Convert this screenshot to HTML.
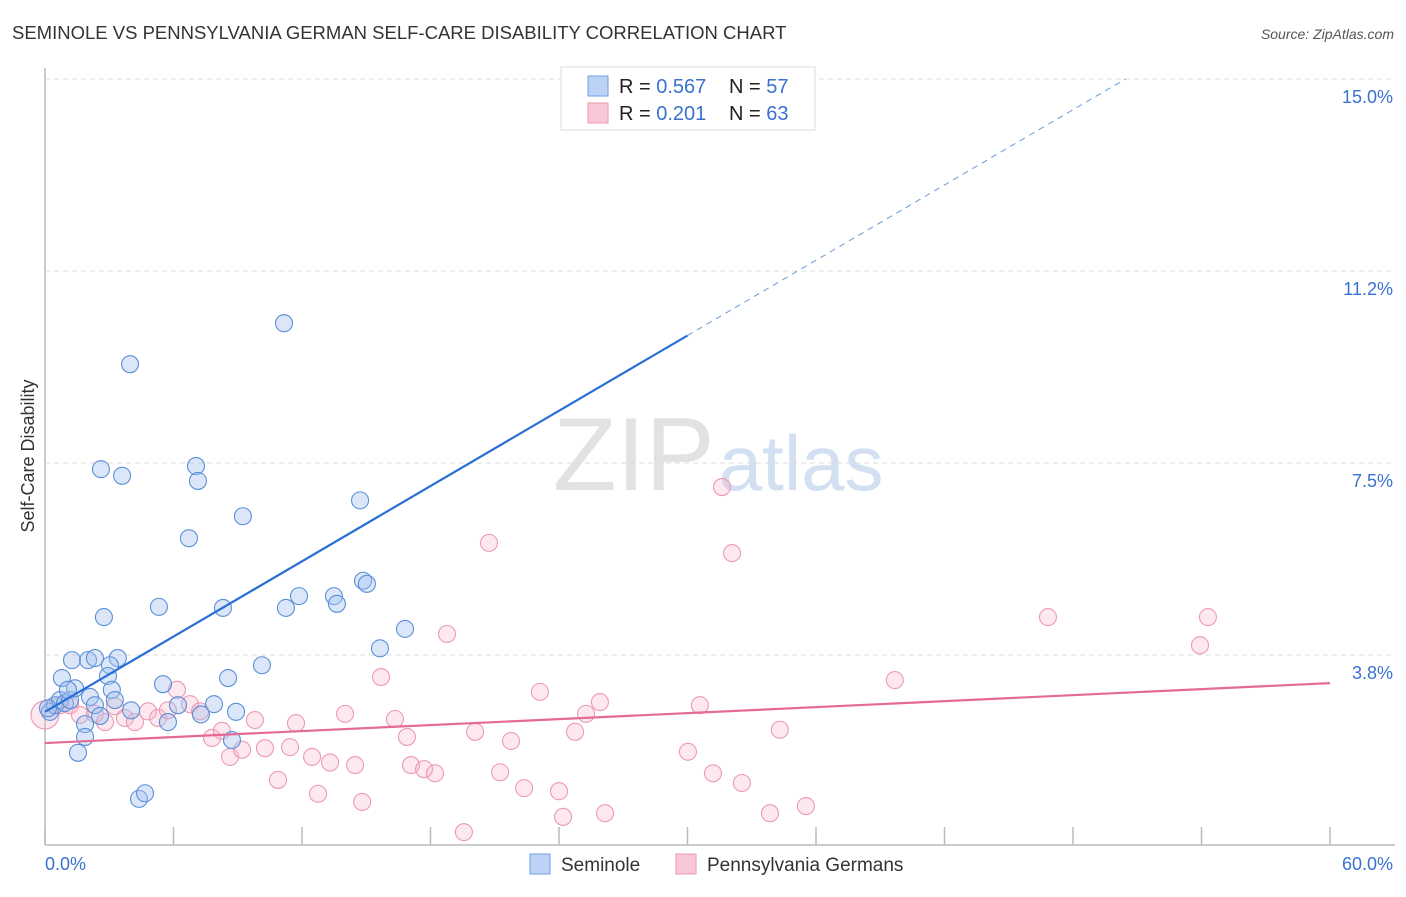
<!DOCTYPE html>
<html><head><meta charset="utf-8"><style>
body{margin:0;background:#fff;font-family:"Liberation Sans",sans-serif;}
svg text{font-family:"Liberation Sans",sans-serif;}
</style></head><body>
<svg id="c" width="1406" height="892">
<text x="12" y="39" font-size="18.5" fill="#333">SEMINOLE VS PENNSYLVANIA GERMAN SELF-CARE DISABILITY CORRELATION CHART</text>
<text x="1394" y="39" font-size="14" fill="#555" font-style="italic" text-anchor="end">Source: ZipAtlas.com</text>
<text x="34" y="456" font-size="18" fill="#333" text-anchor="middle" transform="rotate(-90 34 456)">Self-Care Disability</text>
<text x="553" y="490" font-size="104" fill="#e2e2e2" font-family="Liberation Serif">ZIP<tspan fill="#d3e0f2" font-family="Liberation Sans" font-size="78" dx="4">atlas</tspan></text>
<g id="grid"></g><g id="pts"></g><g id="lines"></g>
<g>
<rect x="561" y="67" width="254" height="63" fill="#fff" stroke="#ddd"/>
<rect x="588" y="76" width="20" height="20" fill="#bcd3f5" stroke="#6f9ee0"/>
<rect x="588" y="103" width="20" height="20" fill="#f9c8d6" stroke="#ec9ab2"/>
<text x="619" y="93" font-size="20" fill="#222">R = <tspan fill="#3a72d0">0.567</tspan><tspan x="729">N = </tspan><tspan fill="#3a72d0">57</tspan></text>
<text x="619" y="120" font-size="20" fill="#222">R = <tspan fill="#3a72d0"> 0.201</tspan><tspan x="729">N = </tspan><tspan fill="#3a72d0">63</tspan></text>
</g>
<g>
<rect x="530" y="854" width="20" height="20" fill="#bcd3f5" stroke="#6f9ee0"/>
<text x="561" y="871" font-size="19" fill="#333">Seminole</text>
<rect x="676" y="854" width="20" height="20" fill="#f9c8d6" stroke="#ec9ab2"/>
<text x="707" y="871" font-size="19" fill="#333">Pennsylvania Germans</text>
</g>
</svg>
<script>
const xTicks=[0,6,12,18,24,30,36,42,48,54,60];
const yTicks=[3.75,7.5,11.25,15];
const yTickLabels=["3.8%","7.5%","11.2%","15.0%"];
const xLabels=["0.0%","60.0%"];
const seminoleX=[0.23,0.47,0.7,0.93,0.14,1.17,0.79,1.26,1.4,1.07,2.01,2.33,3.4,3.03,2.94,3.12,2.1,3.26,2.33,1.87,1.87,1.54,2.57,4.02,5.74,6.21,5.51,7.28,7.89,8.55,8.92,8.73,10.13,2.61,3.6,7.05,7.14,3.97,11.16,6.72,9.24,14.71,2.75,5.32,8.31,11.25,11.86,13.49,13.63,14.85,15.03,15.64,16.81,4.39,4.67];
const seminoleY=[2.64,2.77,2.87,2.81,2.71,2.87,3.3,3.65,3.1,3.07,3.65,3.69,3.69,3.55,3.34,3.07,2.93,2.87,2.77,2.4,2.15,1.84,2.56,2.67,2.44,2.77,3.18,2.59,2.79,3.3,2.64,2.09,3.55,7.38,7.25,7.44,7.15,9.43,10.23,6.03,6.46,6.77,4.49,4.69,4.67,4.67,4.9,4.9,4.75,5.2,5.14,3.88,4.26,0.94,1.05];
const pennX=[0,0.7,1.17,1.63,2.33,2.8,3.26,3.73,4.2,4.81,5.28,5.74,6.16,6.77,7.24,7.8,8.26,8.64,9.2,9.8,10.27,10.88,11.44,11.72,12.47,12.75,13.31,14.01,14.48,14.81,15.69,16.34,16.9,17.09,17.7,18.21,18.77,19.56,20.08,20.73,21.25,21.76,22.37,23.11,24.0,24.19,24.75,25.26,25.91,26.15,30.02,30.58,31.19,31.61,32.08,32.54,33.85,34.31,35.53,39.68,46.83,53.93,54.3];
const pennY=[2.58,2.77,2.77,2.58,2.6,2.44,2.75,2.52,2.44,2.65,2.52,2.67,3.07,2.79,2.65,2.13,2.27,1.76,1.9,2.48,1.93,1.31,1.95,2.42,1.76,1.04,1.65,2.6,1.6,0.88,3.32,2.5,2.15,1.6,1.52,1.44,4.16,0.29,2.25,5.94,1.46,2.07,1.15,3.03,1.09,0.59,2.25,2.6,2.83,0.66,1.86,2.77,1.44,7.03,5.74,1.25,0.66,2.29,0.80,3.26,4.49,3.94,4.49];
const X0=45,X1=1330,Y0=847,Y1=79;
const sx=v=>X0+(v-0)/60*(X1-X0);
const sy=v=>Y0-(v/15)*(Y0-Y1);
const NS="http://www.w3.org/2000/svg";
function mk(tag,attrs,parent){const e=document.createElementNS(NS,tag);for(const k in attrs)e.setAttribute(k,attrs[k]);document.getElementById(parent).appendChild(e);return e;}
let e=mk('line',{x1:X0,y1:68,x2:X0,y2:845,stroke:'#bbb','stroke-width':1.5},'grid');


e=mk('line',{x1:X0,y1:845,x2:1395,y2:845,stroke:'#bbb','stroke-width':1.5},'grid');


yTicks.forEach((t,i)=>{
 const g=mk('line',{x1:X0,y1:sy(t),x2:1395,y2:sy(t),stroke:'#ddd','stroke-dasharray':'5,4'},'grid');
 
 
 const l=mk('text',{x:1393,y:sy(t)+24,'font-size':18,fill:'#3a72d0','text-anchor':'end'},'grid');
 l.textContent=yTickLabels[i];
 
 
});
xTicks.forEach(t=>{
 const k=mk('line',{x1:sx(t),y1:827,x2:sx(t),y2:845,stroke:'#bbb','stroke-width':1.5},'grid');
 
 
});
e=mk('text',{x:45,y:870,'font-size':18,fill:'#3a72d0'},'grid');e.textContent=xLabels[0];


e=mk('text',{x:1393,y:870,'font-size':18,fill:'#3a72d0','text-anchor':'end'},'grid');e.textContent=xLabels[1];


pennX.forEach((x,i)=>{
 const c=mk('circle',{cx:sx(x),cy:sy(pennY[i]),r:i==0?14:8.5,fill:'rgba(246,178,200,0.3)',stroke:'#ec9ab2','stroke-width':1.1},'pts');
 
 
});
seminoleX.forEach((x,i)=>{
 const c=mk('circle',{cx:sx(x),cy:sy(seminoleY[i]),r:8.5,fill:'rgba(160,192,238,0.38)',stroke:'#5a8fd8','stroke-width':1.1},'pts');
 
 
});
const bA=2.64,bB=0.245,pA=2.03,pB=0.0195;
const xEnd=(15-bA)/bB;
e=mk('line',{x1:sx(0),y1:sy(bA),x2:sx(30),y2:sy(bA+bB*30),stroke:'#2a6fd6','stroke-width':2.2},'lines');


e=mk('line',{x1:sx(30),y1:sy(bA+bB*30),x2:sx(xEnd),y2:sy(15),stroke:'#6a9ad8','stroke-width':1,'stroke-dasharray':'6,5'},'lines');


e=mk('line',{x1:sx(0),y1:sy(pA),x2:sx(60),y2:sy(pA+pB*60),stroke:'#e56a96','stroke-width':2.2},'lines');


</script>
</body></html>
